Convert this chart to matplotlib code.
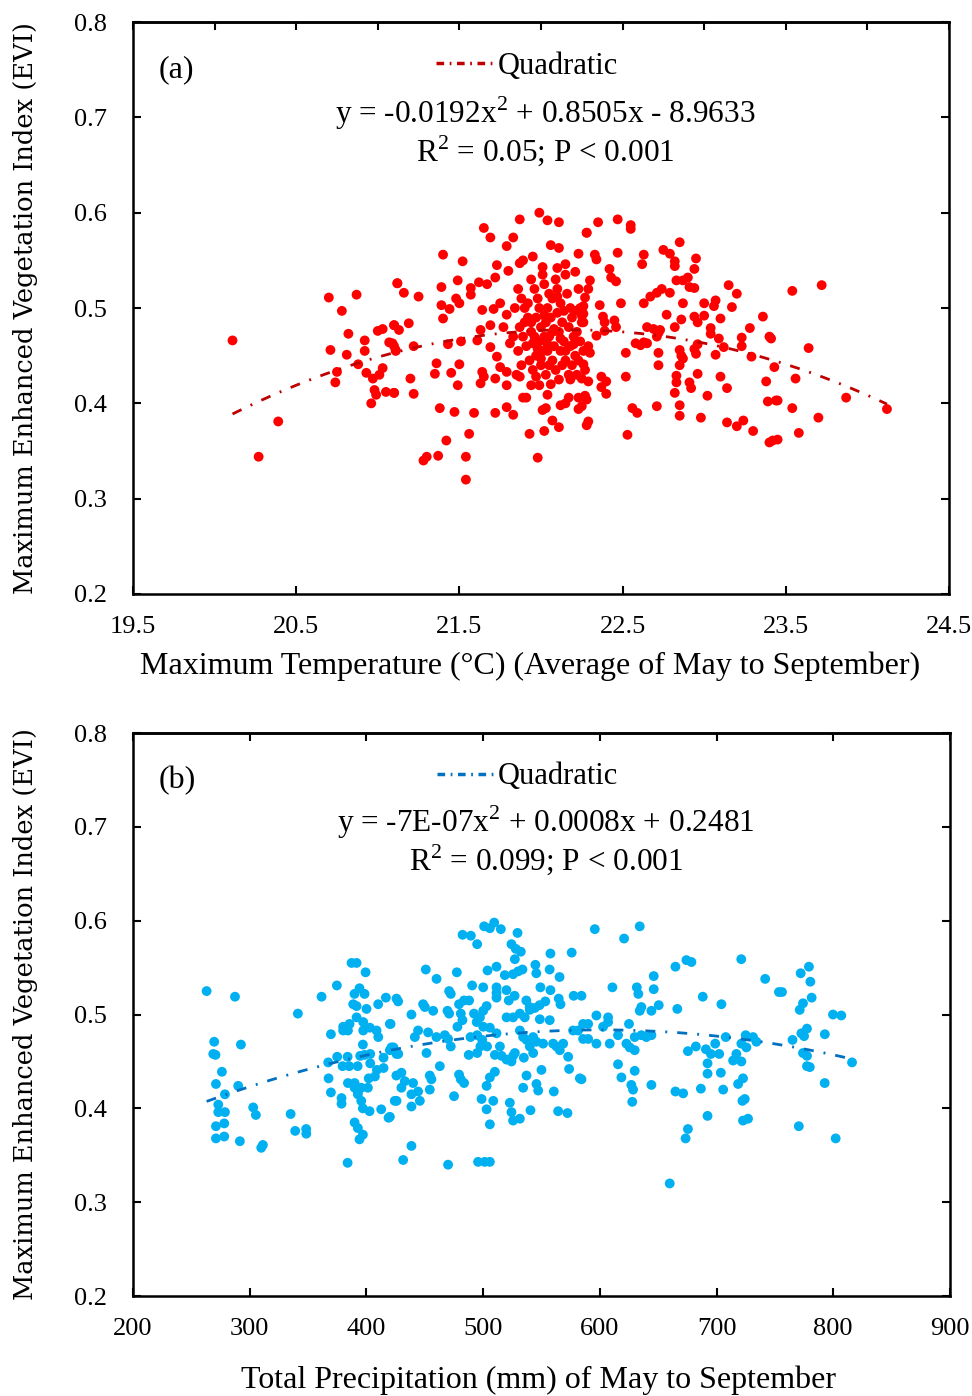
import matplotlib
matplotlib.use("Agg")
import matplotlib.pyplot as plt
import numpy as np
from matplotlib.lines import Line2D

# (a) Maximum temperature vs maximum EVI
temp_x = [
    20.11, 20.27, 20.39, 20.70, 20.87, 20.78, 20.82, 20.71, 20.81, 20.92,
    20.92, 20.88, 20.75, 20.74, 20.93, 21.03, 20.97, 21.01, 20.98, 20.99,
    20.96, 21.05, 21.10, 21.00, 21.03, 21.07, 21.10, 21.11, 21.10, 21.12,
    21.99, 21.87, 22.04, 22.11, 21.65, 21.69, 21.83, 21.79, 22.06, 22.11,
    22.28, 22.23, 21.40, 21.52, 21.95, 21.89, 21.87, 21.73, 21.80, 22.01,
    22.10, 22.15, 22.21, 21.12, 21.16, 21.25, 21.39, 21.49, 21.57, 21.57,
    21.62, 21.67, 21.72, 21.48, 21.50, 21.39, 21.44, 21.40, 21.64, 21.71,
    21.75, 21.79, 21.10, 21.19, 21.13, 21.09, 21.11, 21.22, 21.43, 21.51,
    21.61, 21.63, 21.69, 21.77, 21.69, 21.73, 21.75, 21.81, 21.36, 21.35,
    21.50, 21.45, 21.20, 21.49, 21.64, 21.65, 21.63, 21.72, 21.79, 21.79,
    21.10, 21.22, 21.38, 21.47, 21.59, 21.72, 21.79, 21.83, 21.56, 21.42,
    21.37, 21.30, 21.28, 21.54, 21.54, 21.98, 21.93, 22.02, 22.07, 22.11,
    22.01, 22.03, 21.89, 21.91, 22.04, 22.12, 22.15, 22.17, 22.23, 22.28,
    22.23, 21.94, 21.99, 21.87,
    22.35, 22.47, 22.55, 22.55, 22.28, 22.33, 22.34, 22.47, 22.63, 22.62,
    22.42, 22.43, 22.46, 22.30, 22.29, 22.27, 22.85, 22.75, 22.79, 22.82,
    22.82, 22.95, 22.94, 22.83, 22.87, 22.90, 22.91, 22.94, 22.74, 22.79,
    22.71, 22.67, 22.63, 22.49, 22.36, 22.87, 23.00, 23.07, 23.06, 23.15,
    23.20, 23.17, 23.36, 23.40, 23.28, 23.23, 23.23, 23.29, 23.43, 23.38,
    23.39, 23.44, 23.40, 23.42, 23.30, 23.24, 23.20, 23.14, 23.14, 23.10,
    23.12, 23.07, 23.09, 23.04, 23.04, 23.10, 23.00, 22.94, 22.96, 22.86,
    22.82, 22.77, 22.73, 22.69, 22.65, 22.72, 22.71, 22.65, 22.61, 22.72,
    22.72, 22.85, 22.86, 22.87, 22.85, 22.94, 22.95, 22.96, 22.96, 22.83,
    22.83, 22.91, 22.92, 22.82, 22.85, 22.85, 23.02, 22.98, 22.71, 22.56,
    22.59, 22.53, 22.52, 22.52, 22.38, 22.39, 22.45, 22.46, 22.39, 22.34,
    22.26, 22.26, 22.26, 22.29, 22.30, 22.26, 22.25, 22.29, 22.37, 22.40,
    22.37, 22.40, 22.27, 22.28, 22.25, 22.29, 22.58, 22.63,
    23.54, 23.72, 23.64, 23.41, 23.56, 23.45, 23.54, 23.70, 23.58, 23.45,
    23.87, 24.12,
    21.86, 21.88, 21.90, 21.92, 21.87, 21.89, 21.91, 21.86, 21.93, 21.95,
    21.88, 21.96, 21.98, 21.99, 21.97, 22.00, 21.96, 21.99, 22.01, 21.97,
    22.00, 22.03, 22.02, 22.05, 22.04, 22.06, 22.03, 22.07, 22.05, 22.08,
    22.04, 22.07, 22.09, 22.11, 22.10, 22.12, 22.10, 22.13, 22.11, 22.14,
    22.12, 22.15, 22.13, 22.17, 22.16, 22.18, 22.19, 22.17, 22.20, 22.18,
    22.21, 22.19, 22.22, 22.23, 22.24, 22.25, 22.22, 22.24, 22.26, 22.23,
    22.27, 22.09, 21.94, 22.01, 22.15, 21.84, 21.83, 21.85, 22.06, 21.94,
    22.02,
    21.90, 21.95, 22.02, 22.08, 22.14, 22.20, 21.92, 21.98, 22.05, 22.12,
    22.18, 22.25, 21.94, 22.00, 22.07, 22.15, 22.21, 21.97, 22.04, 22.10,
]
temp_evi = [
    0.466, 0.344, 0.381, 0.511, 0.514, 0.497, 0.473, 0.456, 0.451, 0.466,
    0.455, 0.441, 0.433, 0.422, 0.432, 0.437, 0.426, 0.430, 0.414, 0.409,
    0.400, 0.412, 0.411, 0.476, 0.478, 0.464, 0.460, 0.455, 0.482, 0.526,
    0.600, 0.593, 0.592, 0.590, 0.584, 0.574, 0.574, 0.565, 0.566, 0.563,
    0.579, 0.557, 0.556, 0.549, 0.554, 0.550, 0.547, 0.545, 0.539, 0.543,
    0.542, 0.546, 0.538, 0.526, 0.516, 0.512, 0.522, 0.529, 0.521, 0.514,
    0.527, 0.525, 0.532, 0.510, 0.505, 0.503, 0.499, 0.489, 0.498, 0.499,
    0.505, 0.493, 0.482, 0.484, 0.477, 0.463, 0.456, 0.460, 0.462, 0.465,
    0.466, 0.477, 0.482, 0.480, 0.459, 0.449, 0.438, 0.463, 0.442, 0.431,
    0.441, 0.432, 0.426, 0.419, 0.433, 0.428, 0.421, 0.426, 0.433, 0.419,
    0.411, 0.410, 0.395, 0.391, 0.390, 0.390, 0.396, 0.388, 0.368, 0.361,
    0.345, 0.344, 0.340, 0.344, 0.320, 0.343, 0.368, 0.371, 0.382, 0.375,
    0.393, 0.395, 0.406, 0.406, 0.409, 0.398, 0.400, 0.406, 0.394, 0.377,
    0.406, 0.419, 0.419, 0.428,
    0.590, 0.593, 0.587, 0.583, 0.579, 0.556, 0.551, 0.558, 0.556, 0.546,
    0.541, 0.532, 0.528, 0.529, 0.520, 0.511, 0.569, 0.561, 0.557, 0.549,
    0.544, 0.552, 0.541, 0.529, 0.529, 0.532, 0.522, 0.521, 0.520, 0.516,
    0.516, 0.512, 0.505, 0.505, 0.503, 0.505, 0.505, 0.508, 0.502, 0.524,
    0.515, 0.501, 0.491, 0.470, 0.479, 0.469, 0.460, 0.449, 0.438, 0.423,
    0.402, 0.403, 0.359, 0.361, 0.371, 0.382, 0.376, 0.380, 0.416, 0.428,
    0.459, 0.451, 0.468, 0.473, 0.479, 0.489, 0.492, 0.491, 0.485, 0.488,
    0.480, 0.493, 0.477, 0.478, 0.480, 0.474, 0.470, 0.463, 0.461, 0.453,
    0.440, 0.456, 0.450, 0.447, 0.440, 0.457, 0.452, 0.462, 0.431, 0.429,
    0.422, 0.422, 0.416, 0.411, 0.398, 0.387, 0.408, 0.385, 0.397, 0.395,
    0.390, 0.367, 0.428, 0.453, 0.491, 0.485, 0.487, 0.480, 0.476, 0.471,
    0.502, 0.494, 0.485, 0.460, 0.453, 0.441, 0.426, 0.423, 0.428, 0.423,
    0.417, 0.410, 0.408, 0.404, 0.397, 0.381, 0.463, 0.464,
    0.518, 0.524, 0.458, 0.468, 0.426, 0.403, 0.395, 0.385, 0.369, 0.362,
    0.406, 0.394,
    0.520, 0.510, 0.500, 0.490, 0.480, 0.470, 0.460, 0.455, 0.445, 0.435,
    0.440, 0.520, 0.510, 0.500, 0.490, 0.480, 0.470, 0.465, 0.455, 0.450,
    0.440, 0.430, 0.525, 0.515, 0.500, 0.490, 0.485, 0.475, 0.470, 0.460,
    0.455, 0.445, 0.435, 0.425, 0.520, 0.505, 0.495, 0.485, 0.475, 0.465,
    0.455, 0.445, 0.440, 0.430, 0.515, 0.500, 0.490, 0.480, 0.470, 0.460,
    0.450, 0.440, 0.430, 0.520, 0.500, 0.485, 0.475, 0.465, 0.455, 0.445,
    0.435, 0.530, 0.530, 0.535, 0.535, 0.500, 0.470, 0.430, 0.420, 0.475,
    0.470,
    0.485, 0.463, 0.492, 0.478, 0.497, 0.462, 0.505, 0.457, 0.440, 0.468,
    0.425, 0.492, 0.485, 0.447, 0.510, 0.455, 0.497, 0.428, 0.462, 0.512,
]

# (b) Total precipitation vs maximum EVI
prec_x = [
    263.1, 287.4, 341.3, 361.6, 374.7, 387.3, 391.6, 399.3, 269.6, 268.8,
    270.7, 292.5, 276.2, 271.1, 278.8, 290.2, 273.1, 278.8, 273.1, 271.1,
    278.2, 271.1, 278.2, 291.6, 303.0, 305.3, 311.3, 309.9, 335.1, 339.0,
    348.4, 348.5, 383.9, 369.6, 367.3, 367.6, 369.6, 375.0, 378.7, 378.7,
    380.1, 380.1, 385.6, 384.2, 388.7, 391.6, 389.8, 394.1, 398.4, 400.1,
    391.6, 397.3, 397.3, 403.0, 408.7, 410.2, 410.1, 416.7, 425.8, 420.7,
    397.0, 398.4, 383.9, 379.6, 385.3, 392.5, 394.7, 403.3, 403.3, 409.0,
    414.7, 407.3, 402.0, 414.7, 423.2, 384.2, 389.9, 392.7, 395.6, 401.3,
    389.9, 392.7, 395.6, 397.0, 389.9, 392.7, 397.0, 394.1, 402.7, 412.7,
    419.0, 424.3, 425.7, 425.8,
    500.9, 505.8, 509.5, 515.2, 529.5, 482.4, 489.5, 494.9, 524.3, 528.0,
    532.3, 527.2, 557.7, 575.9, 450.9, 460.1, 477.5, 490.6, 500.1, 503.8,
    511.5, 518.6, 525.7, 530.0, 533.7, 511.5, 511.5, 511.5, 520.0, 527.0,
    522.0, 544.8, 545.6, 557.0, 565.5, 549.1, 557.7, 553.3, 564.8, 566.3,
    577.6, 537.0, 539.9, 548.4, 427.2, 420.1, 438.6, 448.6, 450.1, 457.2,
    470.9, 472.3, 469.5, 470.9, 479.4, 483.7, 488.0, 480.9, 482.3, 478.0,
    492.2, 494.5, 497.3, 500.1, 503.0, 500.1, 505.8, 489.2, 494.9, 499.2,
    503.4, 497.7, 494.9, 487.7, 511.5, 514.4, 510.1, 515.8, 520.1, 524.3,
    527.2, 531.5, 534.3, 537.2, 542.9, 545.7, 551.4, 540.0, 542.9, 560.0,
    562.9, 565.7, 568.6, 572.9, 577.1, 581.4, 585.7, 585.7, 520.1, 525.7,
    531.5, 535.7, 540.0, 544.3, 557.1, 548.6, 534.9, 525.7, 427.3, 420.1,
    421.5, 441.5, 444.3, 452.9, 460.0, 467.2, 470.0, 451.5, 472.3, 462.9,
    430.0, 432.9, 430.0, 440.0, 444.3, 438.6, 445.8, 454.3, 455.7, 454.3,
    425.8, 438.6, 420.1, 479.4, 480.9, 483.7, 475.1, 510.1, 505.8, 503.0,
    498.7, 503.0, 508.7, 505.8, 522.9, 524.3, 525.7, 531.5, 540.6, 537.2,
    534.3, 545.7, 547.2, 550.0, 560.6, 564.3, 572.3, 573.7, 582.9, 438.6,
    431.5, 470.0, 495.7, 501.4, 505.8,
    595.7, 620.8, 634.2, 664.8, 674.2, 678.5, 721.2, 741.7, 753.5, 646.2,
    610.8, 631.7, 633.0, 646.2, 584.3, 688.2, 704.2, 666.4, 650.5, 644.2,
    634.2, 635.6, 597.1, 607.1, 607.1, 590.0, 602.8, 615.6, 625.0, 590.0,
    597.1, 608.5, 622.8, 625.6, 629.9, 629.9, 635.6, 639.9, 644.2, 584.3,
    615.6, 618.5, 629.9, 627.0, 628.5, 627.8, 644.2, 664.8, 671.4, 675.5,
    673.5, 659.9, 675.5, 682.3, 690.9, 698.9, 695.2, 702.3, 692.3, 692.3,
    703.7, 686.6, 705.7, 692.3, 707.9, 725.0, 731.3, 734.2, 721.3, 725.6,
    717.0, 714.2, 721.3, 718.5, 722.7, 722.2, 724.2, 722.7, 727.0,
    779.2, 772.1, 780.4, 756.1, 781.5, 774.1, 771.3, 799.8, 806.9, 777.5,
    772.7, 775.0, 765.1, 792.8, 774.1, 777.5, 777.5, 779.9, 816.1, 792.7,
    770.5, 802.1,
]
prec_evi = [
    0.525, 0.519, 0.501, 0.519, 0.531, 0.555, 0.555, 0.545, 0.471, 0.458,
    0.457, 0.468, 0.439, 0.426, 0.415, 0.424, 0.404, 0.396, 0.396, 0.381,
    0.384, 0.368, 0.370, 0.365, 0.401, 0.393, 0.361, 0.358, 0.394, 0.376,
    0.378, 0.373, 0.342, 0.479, 0.449, 0.432, 0.417, 0.455, 0.411, 0.405,
    0.487, 0.483, 0.490, 0.483, 0.511, 0.509, 0.522, 0.528, 0.522, 0.506,
    0.497, 0.492, 0.483, 0.486, 0.483, 0.476, 0.511, 0.518, 0.517, 0.490,
    0.468, 0.457, 0.455, 0.445, 0.445, 0.445, 0.456, 0.458, 0.448, 0.441,
    0.443, 0.434, 0.432, 0.454, 0.465, 0.427, 0.427, 0.418, 0.422, 0.422,
    0.422, 0.415, 0.408, 0.400, 0.385, 0.379, 0.372, 0.367, 0.397, 0.399,
    0.390, 0.408, 0.435, 0.458,
    0.594, 0.592, 0.598, 0.591, 0.587, 0.585, 0.584, 0.575, 0.575, 0.570,
    0.567, 0.559, 0.565, 0.566, 0.548, 0.538, 0.545, 0.531, 0.529, 0.547,
    0.551, 0.542, 0.543, 0.546, 0.548, 0.529, 0.523, 0.518, 0.526, 0.520,
    0.515, 0.553, 0.544, 0.548, 0.540, 0.529, 0.526, 0.514, 0.517, 0.511,
    0.520, 0.515, 0.508, 0.510, 0.514, 0.490, 0.500, 0.511, 0.508, 0.504,
    0.525, 0.522, 0.504, 0.501, 0.511, 0.515, 0.515, 0.501, 0.494, 0.487,
    0.501, 0.492, 0.497, 0.504, 0.509, 0.487, 0.486, 0.476, 0.478, 0.473,
    0.466, 0.466, 0.459, 0.457, 0.480, 0.466, 0.457, 0.456, 0.452, 0.450,
    0.459, 0.483, 0.476, 0.473, 0.476, 0.471, 0.469, 0.466, 0.459, 0.469,
    0.466, 0.462, 0.469, 0.455, 0.483, 0.483, 0.490, 0.474, 0.497, 0.497,
    0.501, 0.497, 0.505, 0.507, 0.494, 0.495, 0.454, 0.456, 0.458, 0.462,
    0.465, 0.476, 0.483, 0.481, 0.476, 0.478, 0.474, 0.459, 0.466, 0.445,
    0.438, 0.429, 0.422, 0.427, 0.418, 0.415, 0.408, 0.435, 0.431, 0.420,
    0.408, 0.402, 0.391, 0.436, 0.431, 0.427, 0.413, 0.439, 0.433, 0.424,
    0.410, 0.399, 0.408, 0.383, 0.406, 0.396, 0.387, 0.389, 0.398, 0.435,
    0.422, 0.426, 0.419, 0.441, 0.418, 0.397, 0.395, 0.442, 0.432, 0.360,
    0.345, 0.340, 0.343, 0.343, 0.343,
    0.591, 0.581, 0.594, 0.551, 0.558, 0.556, 0.559, 0.538, 0.524, 0.541,
    0.529, 0.529, 0.522, 0.527, 0.520, 0.519, 0.511, 0.506, 0.510, 0.504,
    0.504, 0.508, 0.499, 0.497, 0.492, 0.490, 0.487, 0.478, 0.490, 0.474,
    0.469, 0.469, 0.469, 0.465, 0.462, 0.476, 0.478, 0.476, 0.478, 0.431,
    0.447, 0.433, 0.440, 0.425, 0.420, 0.407, 0.425, 0.418, 0.416, 0.378,
    0.368, 0.320, 0.461, 0.466, 0.463, 0.469, 0.458, 0.458, 0.448, 0.437,
    0.438, 0.421, 0.420, 0.392, 0.476, 0.478, 0.476, 0.471, 0.469, 0.465,
    0.458, 0.451, 0.450, 0.426, 0.432, 0.408, 0.410, 0.387, 0.389,
    0.551, 0.544, 0.535, 0.524, 0.518, 0.512, 0.505, 0.500, 0.499, 0.485,
    0.480, 0.477, 0.473, 0.479, 0.459, 0.456, 0.445, 0.444, 0.449, 0.427,
    0.381, 0.368,
]

SERIF = "Liberation Serif"
plt.rcParams["font.family"] = SERIF
plt.rcParams["mathtext.fontset"] = "custom"
plt.rcParams["mathtext.rm"] = SERIF

fig = plt.figure(figsize=(9.72, 13.96), dpi=100)
ax_a = fig.add_axes([0.1368, 0.5745, 0.8395, 0.4097])
ax_b = fig.add_axes([0.1368, 0.0716, 0.8405, 0.4033])

dash = (0, (3.6, 3.6, 0.7, 3.6))


def panel(ax, x, y, pt_col, ln_col, tag, eq, r2, xlab, xlim, xticks, top_ticks, xlab_pos):
    x = np.array(x)
    y = np.array(y)
    ax.scatter(x, y, s=50, color=pt_col, edgecolors="none", zorder=2)
    coef = np.polyfit(x, y, 2)
    xs = np.linspace(x.min(), x.max(), 200)
    ax.plot(xs, np.polyval(coef, xs), color=ln_col, lw=2, linestyle=dash, zorder=3)

    ax.set_xlim(*xlim)
    ax.set_ylim(0.2, 0.8)
    ax.set_xticks(xticks)
    ax.set_xticklabels([f"{t:g}" for t in xticks])
    yt = np.arange(0.2, 0.81, 0.1)
    ax.set_yticks(yt)
    ax.set_yticklabels([f"{t:.1f}" for t in yt])
    ax.tick_params(direction="in", length=6, width=1.5, labelsize=19)
    ax.tick_params(axis="x", pad=16)
    ax.tick_params(axis="y", right=True, pad=19)
    sec = ax.secondary_xaxis("top")
    sec.set_xticks(top_ticks)
    sec.tick_params(direction="in", length=6, width=1.5, labeltop=False)
    for s in ax.spines.values():
        s.set_linewidth(1.8)
    sec.spines["top"].set_linewidth(1.8)

    ax.set_xlabel(xlab, fontsize=23)
    ax.xaxis.set_label_coords(*xlab_pos)
    ax.set_ylabel("Maximum Enhanced Vegetation Index (EVI)", fontsize=18.5,
                  family="DejaVu Serif")
    ax.yaxis.set_label_coords(-0.116, 0.5)

    ax.text(0.031, 0.916, tag, transform=ax.transAxes, fontsize=23, va="center")
    handle = Line2D([], [], color=ln_col, lw=2.5, linestyle=(0, (2.2, 1.6, 0.5, 1.6)))
    ax.legend([handle], ["Quadratic"], loc="center", bbox_to_anchor=(0.483, 0.922),
              frameon=False, fontsize=22, handlelength=1.9, handletextpad=0.1)
    ax.text(0.505, 0.841, eq, transform=ax.transAxes, fontsize=22.5, ha="center", va="center")
    ax.text(0.505, 0.776, r2, transform=ax.transAxes, fontsize=22.5, ha="center", va="center")


panel(ax_a, temp_x, temp_evi, "#FF0000", "#C00000", "(a)",
      "y = -0.0192x$^{2}$ + 0.8505x - 8.9633", "R$^{2}$ = 0.05; P < 0.001",
      "Maximum Temperature (°C) (Average of May to September)",
      (19.5, 24.5), np.arange(19.5, 24.6, 1.0), np.arange(19.5, 24.6, 0.5), (0.487, -0.100))

panel(ax_b, prec_x, prec_evi, "#00B0F0", "#0070C0", "(b)",
      "y = -7E-07x$^{2}$ + 0.0008x + 0.2481", "R$^{2}$ = 0.099; P < 0.001",
      "Total Precipitation (mm) of May to September",
      (200, 900), np.arange(200, 901, 100), np.arange(200, 901, 100), (0.496, -0.124))

fig.savefig("out.png", dpi=100)
